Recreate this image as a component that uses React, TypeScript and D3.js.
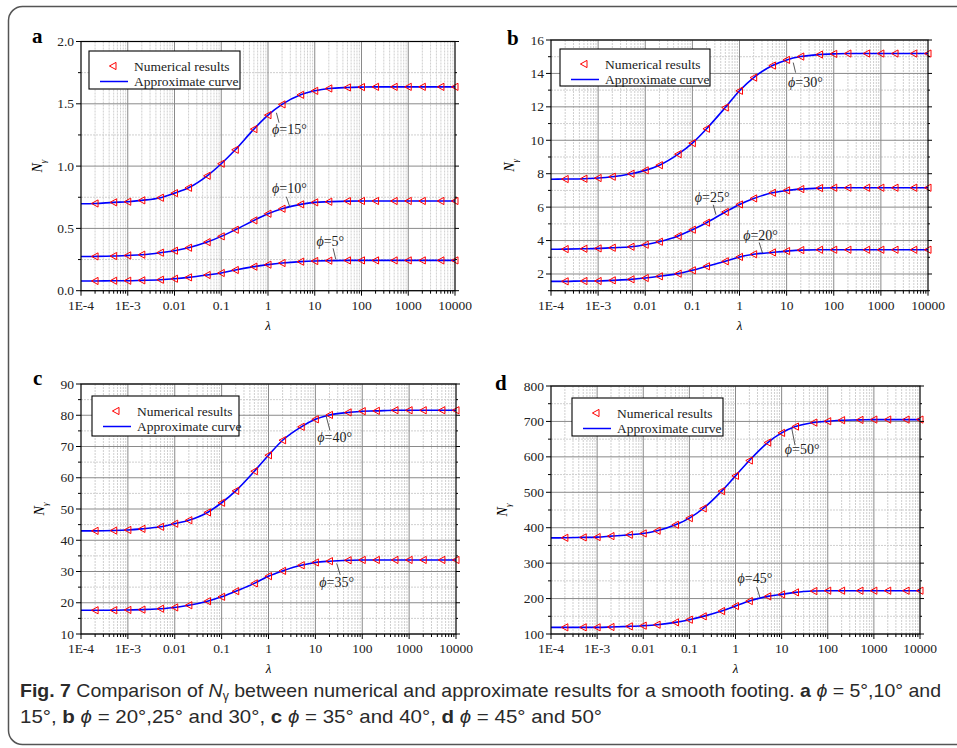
import React, { useEffect, useRef } from "react";
import * as d3 from "d3";

// lambda values of the numerical results
const lambdas = [2e-4, 5e-4, 1e-3, 2e-3, 5e-3, 0.01, 0.02, 0.05, 0.1, 0.2, 0.5, 1, 2, 5, 10, 20, 50, 100, 200, 500, 1000, 2000, 5000, 10000];
const xTickValues = [1e-4, 1e-3, 0.01, 0.1, 1, 10, 100, 1000, 10000];
const xTickLabels = ["1E-4", "1E-3", "0.01", "0.1", "1", "10", "100", "1000", "10000"];

// panel a
const phi5 = [0.078, 0.08, 0.08, 0.083, 0.088, 0.096, 0.107, 0.126, 0.142, 0.166, 0.193, 0.209, 0.222, 0.233, 0.238, 0.241, 0.243, 0.243, 0.243, 0.243, 0.243, 0.243, 0.243, 0.243];
const phi10 = [0.275, 0.278, 0.283, 0.289, 0.305, 0.321, 0.345, 0.39, 0.436, 0.489, 0.564, 0.618, 0.658, 0.693, 0.709, 0.714, 0.719, 0.72, 0.72, 0.72, 0.72, 0.72, 0.72, 0.72];
const phi15 = [0.7, 0.709, 0.714, 0.725, 0.746, 0.783, 0.826, 0.922, 1.019, 1.131, 1.297, 1.409, 1.495, 1.572, 1.604, 1.623, 1.631, 1.634, 1.636, 1.636, 1.636, 1.636, 1.636, 1.636];
// panel b
const phi20 = [1.56, 1.58, 1.58, 1.62, 1.68, 1.76, 1.86, 2.02, 2.22, 2.46, 2.76, 3.02, 3.18, 3.29, 3.37, 3.43, 3.45, 3.45, 3.45, 3.45, 3.45, 3.45, 3.45, 3.45];
const phi25 = [3.49, 3.51, 3.53, 3.57, 3.63, 3.75, 3.93, 4.27, 4.65, 5.07, 5.71, 6.16, 6.52, 6.86, 7.0, 7.08, 7.14, 7.16, 7.16, 7.16, 7.16, 7.16, 7.16, 7.16];
const phi30 = [7.68, 7.7, 7.74, 7.82, 8.0, 8.2, 8.51, 9.17, 9.83, 10.69, 11.96, 12.96, 13.75, 14.47, 14.81, 15.01, 15.13, 15.17, 15.19, 15.19, 15.19, 15.19, 15.19, 15.19];
// panel c
const phi35 = [17.6, 17.6, 17.7, 17.8, 18.1, 18.5, 19.2, 20.5, 21.9, 23.7, 26.2, 28.5, 30.2, 32.0, 32.9, 33.3, 33.6, 33.7, 33.7, 33.7, 33.7, 33.7, 33.7, 33.7];
const phi40 = [43.0, 43.1, 43.3, 43.65, 44.3, 45.3, 46.4, 48.9, 52.0, 55.8, 62.1, 67.2, 72.0, 76.3, 78.7, 80.1, 80.9, 81.3, 81.4, 81.6, 81.6, 81.6, 81.6, 81.6];
// panel d
const phi45 = [118.8, 118.8, 118.8, 119.7, 121.6, 123.5, 126.3, 132.9, 140.4, 149.8, 164.8, 178.9, 193, 206.2, 211.8, 217.5, 221.2, 222.2, 222.2, 222.2, 222.2, 222.2, 222.2, 222.2];
const phi50 = [371.6, 372.6, 373.5, 376.3, 380, 383.8, 391.4, 408.3, 427, 454.3, 503.2, 546.4, 589.7, 640.4, 667.7, 685.5, 696.8, 700.5, 703.4, 704.3, 705.2, 705.2, 705.2, 705.2];

// approximate curve value at lambda = 1E-4 (curve starts at the axis)
const curveStart: Record<number, number> = { 5: 0.078, 10: 0.274, 15: 0.698, 20: 1.56, 25: 3.48, 30: 7.67, 35: 17.6, 40: 43.0, 45: 118.7, 50: 371.3 };

const serif = "'Liberation Serif', 'Times New Roman', serif";

const panels = [
  {
    letter: "a", l: 81, r: 455, t: 41.5, b: 290.7, letterX: 32, letterY: 43, nyX: 42,
    yDomain: [0, 2], yMajor: [0, 0.5, 1, 1.5, 2], yMinor: [0.25, 0.75, 1.25, 1.75], yFmt: d3.format(".1f"),
    legend: { dx: 8, dy: 9.5, w: 151, h: 38 },
    series: [{ phi: 5, v: phi5 }, { phi: 10, v: phi10 }, { phi: 15, v: phi15 }],
    notes: [
      { text: "15", lx: 0.086, ly: 1.257, p1: [0.18, 1.428], p2: [0.236, 1.348] },
      { text: "10", lx: 0.086, ly: 0.786, p1: [0.393, 0.754], p2: [0.464, 0.674] },
      { text: "5", lx: 1.036, ly: 0.358, p1: [1.393, 0.34], p2: [1.45, 0.251] },
    ],
  },
  {
    letter: "b", l: 551, r: 928, t: 40, b: 290.7, letterX: 507, letterY: 45, nyX: 514,
    yDomain: [1, 16], yMajor: [2, 4, 6, 8, 10, 12, 14, 16], yMinor: [1, 3, 5, 7, 9, 11, 13, 15], yFmt: d3.format("d"),
    legend: { dx: 9, dy: 9, w: 150, h: 37 },
    series: [{ phi: 20, v: phi20 }, { phi: 25, v: phi25 }, { phi: 30, v: phi30 }],
    notes: [
      { text: "30", lx: 1.03, ly: 13.2, p1: [1.14, 14.65], p2: [1.19, 14.05] },
      { text: "25", lx: -0.947, ly: 6.28, p1: [-0.558, 6.14], p2: [-0.5, 5.55] },
      { text: "20", lx: 0.078, ly: 4.05, p1: [0.417, 3.89], p2: [0.488, 3.25] },
    ],
  },
  {
    letter: "c", l: 81, r: 456, t: 384, b: 634, letterX: 33, letterY: 385, nyX: 44,
    yDomain: [10, 90], yMajor: [10, 20, 30, 40, 50, 60, 70, 80, 90], yMinor: [15, 25, 35, 45, 55, 65, 75, 85], yFmt: d3.format("d"),
    legend: { dx: 11, dy: 12, w: 147, h: 40 },
    series: [{ phi: 35, v: phi35 }, { phi: 40, v: phi40 }],
    notes: [
      { text: "40", lx: 1.04, ly: 71.3, p1: [1.23, 79.7], p2: [1.31, 75.2] },
      { text: "35", lx: 1.085, ly: 25.2, p1: [1.455, 32.6], p2: [1.53, 28.9] },
    ],
  },
  {
    letter: "d", l: 551, r: 920, t: 386, b: 634, letterX: 495, letterY: 390, nyX: 507,
    yDomain: [100, 800], yMajor: [100, 200, 300, 400, 500, 600, 700, 800], yMinor: [150, 250, 350, 450, 550, 650, 750], yFmt: d3.format("d"),
    legend: { dx: 21, dy: 12, w: 151, h: 38 },
    series: [{ phi: 45, v: phi45 }, { phi: 50, v: phi50 }],
    notes: [
      { text: "50", lx: 1.07, ly: 609, p1: [1.22, 680], p2: [1.29, 633] },
      { text: "45", lx: 0.046, ly: 243, p1: [0.458, 233], p2: [0.53, 203] },
    ],
  },
];

// left-pointing open triangle
const tri = (cx: number, cy: number) => `M${cx - 3.6},${cy}L${cx + 3},${cy - 3.6}L${cx + 3},${cy + 3.6}Z`;

function drawPanel(root: any, p: any) {
  const x = d3.scaleLog().domain([1e-4, 1e4]).range([p.l, p.r]);
  const y = d3.scaleLinear().domain(p.yDomain).range([p.b, p.t]);
  const g = root.append("g");

  const minorX: number[] = [];
  for (let e = -4; e < 4; e++) for (let m = 2; m < 10; m++) minorX.push(m * 10 ** e);

  // grid
  g.selectAll(null).data(minorX).join("line")
    .attr("x1", (d) => x(d)).attr("x2", (d) => x(d)).attr("y1", p.t).attr("y2", p.b)
    .attr("stroke", "#cfcfcf").attr("stroke-dasharray", "2,1");
  g.selectAll(null).data(p.yMinor).join("line")
    .attr("x1", p.l).attr("x2", p.r).attr("y1", (d) => y(d)).attr("y2", (d) => y(d))
    .attr("stroke", "#cfcfcf").attr("stroke-dasharray", "2,1");
  g.selectAll(null).data(xTickValues.slice(1, -1)).join("line")
    .attr("x1", (d) => x(d)).attr("x2", (d) => x(d)).attr("y1", p.t).attr("y2", p.b)
    .attr("stroke", "#8a8a8a");
  g.selectAll(null).data(p.yMajor).join("line")
    .attr("x1", p.l).attr("x2", p.r).attr("y1", (d) => y(d)).attr("y2", (d) => y(d))
    .attr("stroke", "#8a8a8a");

  // curves
  const line = d3.line<[number, number]>().x((d) => x(d[0])).y((d) => y(d[1])).curve(d3.curveMonotoneX);
  p.series.forEach((s: any) => {
    const pts: [number, number][] = [[1e-4, curveStart[s.phi]], ...lambdas.map((l, i) => [l, s.v[i]] as [number, number])];
    g.append("path").attr("d", line(pts)).attr("fill", "none").attr("stroke", "#0000ff").attr("stroke-width", 1.6);
  });
  p.series.forEach((s: any) => {
    g.selectAll(null).data(lambdas).join("path")
      .attr("d", (d, i) => tri(x(d), y(s.v[i])))
      .attr("fill", "none").attr("stroke", "#ff0000").attr("stroke-width", 1);
  });

  // frame + ticks
  g.append("rect").attr("x", p.l).attr("y", p.t).attr("width", p.r - p.l).attr("height", p.b - p.t)
    .attr("fill", "none").attr("stroke", "#000").attr("stroke-width", 1.2);
  g.selectAll(null).data(xTickValues).join("line")
    .attr("x1", (d) => x(d)).attr("x2", (d) => x(d)).attr("y1", p.b).attr("y2", p.b + 5).attr("stroke", "#000");
  g.selectAll(null).data(minorX).join("line")
    .attr("x1", (d) => x(d)).attr("x2", (d) => x(d)).attr("y1", p.b).attr("y2", p.b + 3).attr("stroke", "#000");
  [...p.yMajor.map((v: number) => [v, 5]), ...p.yMinor.map((v: number) => [v, 3])].forEach(([v, len]) => {
    g.append("line").attr("x1", p.l - len).attr("x2", p.l).attr("y1", y(v)).attr("y2", y(v)).attr("stroke", "#000");
    g.append("line").attr("x1", p.r).attr("x2", p.r + len - 1).attr("y1", y(v)).attr("y2", y(v)).attr("stroke", "#000");
  });

  // tick labels
  g.selectAll(null).data(xTickValues).join("text")
    .attr("x", (d) => x(d)).attr("y", p.b + 19).attr("text-anchor", "middle")
    .attr("font-family", serif).attr("font-size", 13.5).attr("fill", "#222")
    .text((d, i) => xTickLabels[i]);
  g.selectAll(null).data(p.yMajor).join("text")
    .attr("x", p.l - 7).attr("y", (d) => y(d) + 4.5).attr("text-anchor", "end")
    .attr("font-family", serif).attr("font-size", 13.5).attr("fill", "#222")
    .text((d) => p.yFmt(d));

  // axis titles
  g.append("text").attr("x", (p.l + p.r) / 2).attr("y", p.b + 39).attr("text-anchor", "middle")
    .attr("font-family", serif).attr("font-style", "italic").attr("font-size", 13).text("λ");
  const ny = g.append("text").attr("transform", `translate(${p.nyX},${(p.t + p.b) / 2}) rotate(-90)`)
    .attr("text-anchor", "middle").attr("font-family", serif).attr("font-size", 14).attr("font-style", "italic");
  ny.append("tspan").text("N");
  ny.append("tspan").attr("dy", 4).attr("font-size", 9).text("γ");

  // panel letter
  g.append("text").attr("x", p.letterX).attr("y", p.letterY).attr("font-family", serif)
    .attr("font-weight", "bold").attr("font-size", 21).text(p.letter);

  // annotations
  p.notes.forEach((n: any) => {
    g.append("line").attr("x1", x(10 ** n.p1[0])).attr("y1", y(n.p1[1]))
      .attr("x2", x(10 ** n.p2[0])).attr("y2", y(n.p2[1])).attr("stroke", "#444").attr("stroke-width", 0.9);
    const t = g.append("text").attr("x", x(10 ** n.lx)).attr("y", y(n.ly))
      .attr("font-family", serif).attr("font-size", 14).attr("fill", "#222");
    t.append("tspan").attr("font-style", "italic").text("ϕ");
    t.append("tspan").text(`=${n.text}°`);
  });

  // legend
  const lx = p.l + p.legend.dx;
  const ly = p.t + p.legend.dy;
  const lg = g.append("g");
  lg.append("rect").attr("x", lx).attr("y", ly).attr("width", p.legend.w).attr("height", p.legend.h)
    .attr("fill", "#fff").attr("stroke", "#000").attr("stroke-width", 1.1);
  lg.append("path").attr("d", tri(lx + 24, ly + 15)).attr("fill", "none").attr("stroke", "#ff0000");
  lg.append("line").attr("x1", lx + 11).attr("x2", lx + 39).attr("y1", ly + 30.5).attr("y2", ly + 30.5)
    .attr("stroke", "#0000ff").attr("stroke-width", 1.5);
  lg.append("text").attr("x", lx + 45).attr("y", ly + 19.5).attr("font-family", serif).attr("font-size", 13.5)
    .attr("fill", "#222").text("Numerical results");
  lg.append("text").attr("x", lx + 45).attr("y", ly + 35).attr("font-family", serif).attr("font-size", 13.5)
    .attr("fill", "#222").text("Approximate curve");
}

export default function App() {
  const ref = useRef<SVGGElement>(null);

  useEffect(() => {
    const root = d3.select(ref.current);
    root.selectAll("*").remove();
    panels.forEach((p) => drawPanel(root, p));
  }, []);

  const cap = "'Liberation Sans Narrow', 'Liberation Sans', Arial, sans-serif";
  return (
    <svg width={957} height={748} style={{ position: "absolute", left: 0, top: 0, background: "#fff" }}>
      <rect x={8.5} y={6.5} width={980} height={738} rx={14} fill="#fff" stroke="#555" strokeWidth={1.5} />
      <g ref={ref} />
      <text x={20} y={697} fontFamily={cap} fontSize={19} fill="#2a2a2a" textLength={921} lengthAdjust="spacingAndGlyphs">
        <tspan fontWeight="bold">Fig. 7</tspan>
        <tspan>{"  Comparison of "}</tspan>
        <tspan fontStyle="italic">N</tspan>
        <tspan dy={3} fontSize={12}>γ</tspan>
        <tspan dy={-3}>{" between numerical and approximate results for a smooth footing. "}</tspan>
        <tspan fontWeight="bold">a</tspan>
        <tspan fontStyle="italic">{" ϕ"}</tspan>
        <tspan>{" = 5°,10° and"}</tspan>
      </text>
      <text x={20} y={723} fontFamily={cap} fontSize={19} fill="#2a2a2a" textLength={582} lengthAdjust="spacingAndGlyphs">
        <tspan>{"15°, "}</tspan>
        <tspan fontWeight="bold">b</tspan>
        <tspan fontStyle="italic">{" ϕ"}</tspan>
        <tspan>{" = 20°,25° and 30°, "}</tspan>
        <tspan fontWeight="bold">c</tspan>
        <tspan fontStyle="italic">{" ϕ"}</tspan>
        <tspan>{" = 35° and 40°, "}</tspan>
        <tspan fontWeight="bold">d</tspan>
        <tspan fontStyle="italic">{" ϕ"}</tspan>
        <tspan>{" = 45° and 50°"}</tspan>
      </text>
    </svg>
  );
}
